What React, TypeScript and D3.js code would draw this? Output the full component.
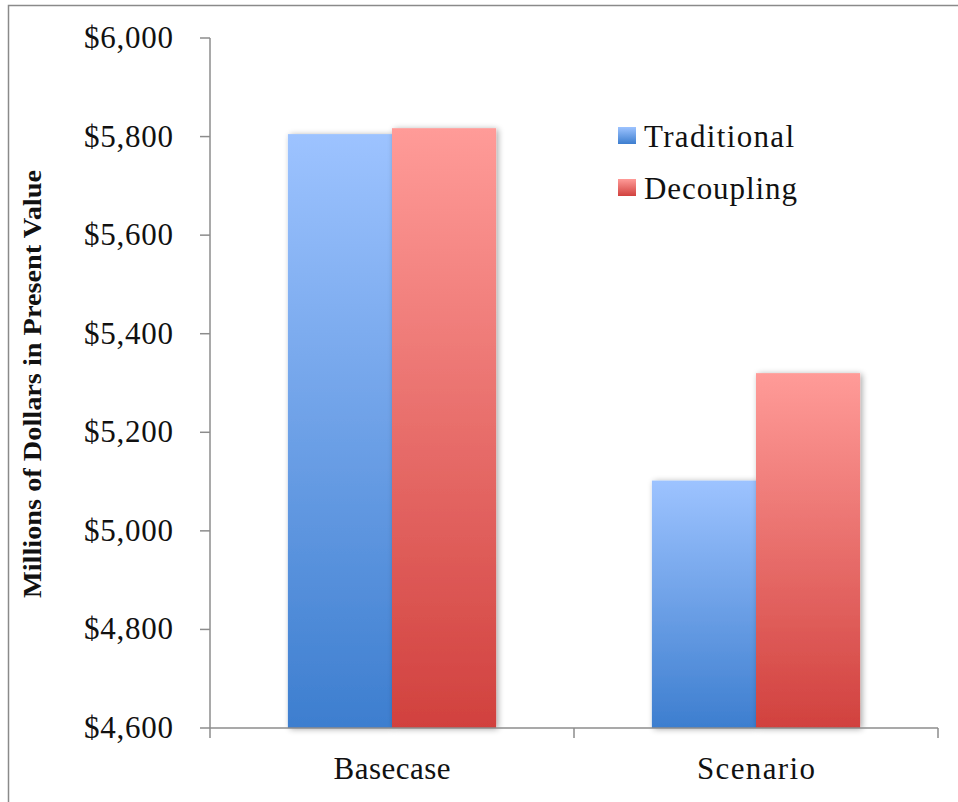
import React from "react";
import * as d3 from "d3";

const categories = ["Basecase", "Scenario"];
const seriesNames = ["Traditional", "Decoupling"];
const traditional = [5805, 5102];
const decoupling = [5817, 5320];
const yTicks = [4600, 4800, 5000, 5200, 5400, 5600, 5800, 6000];

const W = 958;
const H = 802;
const left = 210;
const right = 938;
const top = 38;
const bottom = 728;

const gradients = [
  { id: "gBlue", top: "#9DC3FF", bottom: "#3D7ECF" },
  { id: "gRed", top: "#FF9B98", bottom: "#D1413E" },
];

export default function App() {
  const x0 = d3.scaleBand<string>().domain(categories).range([left, right]).paddingInner(0.428).paddingOuter(0.214);
  const x1 = d3.scaleBand<string>().domain(seriesNames).range([0, x0.bandwidth()]);
  const y = d3.scaleLinear().domain([4600, 6000]).range([bottom, top]);
  const values = [traditional, decoupling];
  const fmt = (v: number) => "$" + d3.format(",")(v);
  const axisColor = "#8c8c8c";
  const font = "'Liberation Serif', 'Times New Roman', serif";

  return (
    <svg width={W} height={H} style={{ position: "fixed", left: 0, top: 0, background: "#fff" }} fontFamily={font}>
      <defs>
        {gradients.map((g) => (
          <linearGradient key={g.id} id={g.id} x1="0" y1="0" x2="0" y2="1">
            <stop offset="0" stopColor={g.top} />
            <stop offset="1" stopColor={g.bottom} />
          </linearGradient>
        ))}
        <filter id="shadow" x="-20%" y="-5%" width="140%" height="110%">
          <feGaussianBlur in="SourceAlpha" stdDeviation="3" />
          <feOffset dx="2" dy="1" result="b" />
          <feComponentTransfer>
            <feFuncA type="linear" slope="0.35" />
          </feComponentTransfer>
          <feMerge>
            <feMergeNode />
            <feMergeNode in="SourceGraphic" />
          </feMerge>
        </filter>
      </defs>
      <rect x={0} y={0} width={W} height={H} fill="#fff" />
      {/* outer frame */}
      <path d={`M8.5,${H + 5} L8.5,5.5 L${W + 5},5.5`} fill="none" stroke="#8a8a8a" strokeWidth={1.5} />

      {/* bars */}
      {categories.map((c, ci) => (
        <g key={c} transform={`translate(${x0(c)},0)`}>
          {seriesNames.map((s, si) => {
            const v = values[si][ci];
            return (
              <rect
                key={s}
                x={x1(s)}
                y={y(v)}
                width={x1.bandwidth()}
                height={bottom - y(v)}
                fill={`url(#${gradients[si].id})`}
                filter="url(#shadow)"
              />
            );
          })}
        </g>
      ))}

      {/* y axis */}
      <line x1={left} x2={left} y1={top} y2={bottom} stroke={axisColor} strokeWidth={1.5} />
      {yTicks.map((t) => (
        <g key={t}>
          <line x1={left - 10} x2={left} y1={y(t)} y2={y(t)} stroke={axisColor} strokeWidth={1.5} />
          <text x={173} y={y(t) + 10} textAnchor="end" fontSize={31} fill="#111" textLength={89}>
            {fmt(t)}
          </text>
        </g>
      ))}

      {/* x axis */}
      <line x1={left} x2={right} y1={bottom} y2={bottom} stroke={axisColor} strokeWidth={1.5} />
      {[left, ...categories.map((c) => (x0(c) as number) + x0.bandwidth() + (x0.step() - x0.bandwidth()) / 2)].map((px, i) => (
        <line key={i} x1={px} x2={px} y1={bottom} y2={bottom + 10} stroke={axisColor} strokeWidth={1.5} />
      ))}
      {categories.map((c, i) => (
        <text key={c} x={(x0(c) as number) + x0.bandwidth() / 2} y={779} textAnchor="middle" fontSize={31} fill="#111" textLength={i === 0 ? 117 : 118}>
          {c}
        </text>
      ))}

      {/* y title */}
      <text
        transform={`translate(41,${(170 + 598) / 2}) rotate(-90)`}
        textAnchor="middle"
        fontSize={25}
        fontWeight="bold"
        fill="#111"
        textLength={428}
        lengthAdjust="spacingAndGlyphs"
      >
        Millions of Dollars in Present Value
      </text>

      {/* legend */}
      {seriesNames.map((s, i) => (
        <g key={s} transform={`translate(618,${127 + i * 52})`}>
          <rect x={0} y={0} width={18} height={17} fill={`url(#${gradients[i].id})`} />
          <text x={26} y={19.5} fontSize={31} fill="#111" textLength={i === 0 ? 150 : 153}>
            {s}
          </text>
        </g>
      ))}
    </svg>
  );
}
